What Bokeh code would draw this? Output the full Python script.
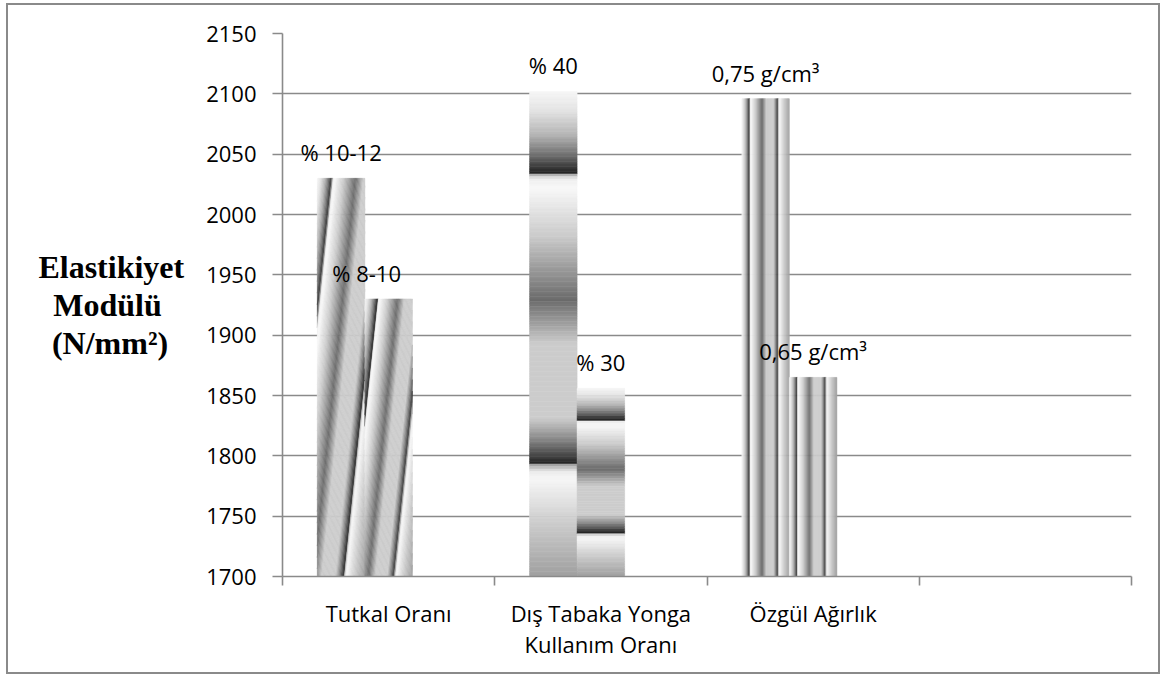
import math
import numpy as np
from bokeh.plotting import figure
from bokeh.layouts import column
from bokeh.core.properties import value
from bokeh.models import Range1d, FixedTicker, ColumnDataSource, LabelSet
from bokeh.embed import file_html
from bokeh.resources import INLINE

# ---- data -------------------------------------------------------------
categories = ["Tutkal Oranı", "Dış Tabaka Yonga\nKullanım Oranı", "Özgül Ağırlık", ""]
first_values = [2030, 2102, 2096]
second_values = [1930, 1856, 1865]
first_labels = ["% 10-12", "% 40", "0,75 g/cm³"]
second_labels = ["% 8-10", "% 30", "0,65 g/cm³"]
y_ticks = [1700, 1750, 1800, 1850, 1900, 1950, 2000, 2050, 2100, 2150]
# title lines; the no-break spaces keep the shorter lines centred under the longest
y_title = "Elastikiyet\nModülü\u00a0\u00a0\u2009\n(N/mm²)\u00a0\u00a0"

# ---- styling ----------------------------------------------------------
# direction of the metallic gradient used for each category's bars
fill_direction = ["slant", "down", "across"]
second_label_shift = [-22, 0, 0]

W, H = 1150, 667
B_LEFT, B_RIGHT, B_TOP, B_BOTTOM = 274, 27, 28, 96
Y_MIN, Y_MAX = y_ticks[0], y_ticks[-1]
N_CAT = len(categories)
px_x = (W - B_LEFT - B_RIGHT) / N_CAT
px_y = (H - B_TOP - B_BOTTOM) / (Y_MAX - Y_MIN)

BAR_W = 0.224                     # bar width as a fraction of a category slot
SERIES_OFFSET = [-BAR_W, 0.0]     # first / second series (third series is empty)
GRID = "#8a8a8a"
FONT = "Open Sans"

# chrome-like gradient: (position along gradient, gray level)
STOPS = [(0.000, 246), (0.040, 228), (0.090, 180), (0.130, 115), (0.158, 55), (0.168, 36),
         (0.169, 150), (0.180, 238), (0.200, 248), (0.300, 202), (0.380, 145), (0.430, 108),
         (0.470, 150), (0.520, 204), (0.675, 204), (0.720, 132), (0.755, 62), (0.767, 36),
         (0.768, 150), (0.784, 236), (0.800, 246), (0.900, 200), (1.000, 160)]
ST_T = np.array([s[0] for s in STOPS])
ST_G = np.array([s[1] for s in STOPS])


def gray(t):
    g = int(round(float(np.interp(t, ST_T, ST_G))))
    return "#%02x%02x%02x" % (g, g, g)


def clip(poly, a, b, c):
    """Keep the part of poly where a*u + b*v >= c."""
    out = []
    n = len(poly)
    for i in range(n):
        p, q = poly[i], poly[(i + 1) % n]
        fp = a * p[0] + b * p[1] - c
        fq = a * q[0] + b * q[1] - c
        if fp >= 0:
            out.append(p)
        if (fp >= 0) != (fq >= 0):
            r = fp / (fp - fq)
            out.append((p[0] + r * (q[0] - p[0]), p[1] + r * (q[1] - p[1])))
    return out


xs, ys, colors = [], [], []


def add_bar(center, val, mode):
    left = center - BAR_W / 2
    w_px = BAR_W * px_x
    h_px = (val - Y_MIN) * px_y
    if mode == "slant":
        th = math.radians(6.0)
        ca, sa = math.cos(th), math.sin(th)
        L = w_px * ca + h_px * sa
        n = max(int(L / 1.2), 40)
        rect = [(0, 0), (w_px, 0), (w_px, h_px), (0, h_px)]
        for k in range(n):
            t0, t1 = k / n, (k + 1) / n
            poly = clip(rect, ca, sa, t0 * L)
            poly = clip(poly, -ca, -sa, -t1 * L)
            if len(poly) < 3:
                continue
            xs.append([left + u / px_x for u, v in poly])
            ys.append([val - v / px_y for u, v in poly])
            colors.append(gray((t0 + t1) / 2))
    elif mode == "down":
        n = max(int(h_px / 2.5), 40)
        for k in range(n):
            t0, t1 = k / n, (k + 1) / n
            y0 = val - t0 * (val - Y_MIN)
            y1 = val - t1 * (val - Y_MIN)
            xs.append([left, left + BAR_W, left + BAR_W, left])
            ys.append([y0, y0, y1, y1])
            colors.append(gray((t0 + t1) / 2))
    else:
        n = max(int(w_px / 1.0), 30)
        for k in range(n):
            t0, t1 = k / n, (k + 1) / n
            x0 = left + t0 * BAR_W
            x1 = left + t1 * BAR_W
            xs.append([x0, x1, x1, x0])
            ys.append([val, val, Y_MIN, Y_MIN])
            colors.append(gray((t0 + t1) / 2))


lab_x, lab_y, lab_t, lab_dx = [], [], [], []
for i, (v1, v2) in enumerate(zip(first_values, second_values)):
    c = i + 0.5
    for s, (v, txt, dx) in enumerate([(v1, first_labels[i], 0),
                                      (v2, second_labels[i], second_label_shift[i])]):
        add_bar(c + SERIES_OFFSET[s], v, fill_direction[i])
        lab_x.append(c + SERIES_OFFSET[s])
        lab_y.append(v)
        lab_t.append(txt)
        lab_dx.append(dx)

# ---- figure -----------------------------------------------------------
p = figure(width=W, height=H, output_backend="svg", toolbar_location=None,
           x_range=Range1d(0, N_CAT), y_range=Range1d(Y_MIN, Y_MAX),
           min_border_left=B_LEFT, min_border_right=B_RIGHT,
           min_border_top=B_TOP, min_border_bottom=B_BOTTOM)
p.outline_line_color = None
p.background_fill_color = "white"
p.border_fill_color = "white"
p.xgrid.grid_line_color = None
p.ygrid.grid_line_color = GRID
p.ygrid.grid_line_width = 1.6
p.ygrid.ticker = FixedTicker(ticks=y_ticks)

p.patches(xs, ys, fill_color=colors, line_color=colors, line_width=0.5)

src = ColumnDataSource(dict(x=lab_x, y=lab_y, text=lab_t, dx=lab_dx))
p.add_layout(LabelSet(x="x", y="y", text="text", source=src, x_offset="dx", y_offset=26,
                      text_align="center", text_baseline="middle",
                      text_font=value(FONT), text_font_size="22px", text_color="black"))

# y axis with a horizontal, three-line title
p.yaxis.ticker = FixedTicker(ticks=y_ticks)
p.yaxis.axis_line_color = GRID
p.yaxis.axis_line_width = 1.6
p.yaxis.major_tick_line_color = GRID
p.yaxis.major_tick_line_width = 1.6
p.yaxis.major_tick_in = 0
p.yaxis.major_tick_out = 10
p.yaxis.minor_tick_line_color = None
p.yaxis.major_label_standoff = 16
p.yaxis.major_label_text_font = FONT
p.yaxis.major_label_text_font_size = "22px"
p.yaxis.major_label_text_color = "black"
p.yaxis.axis_label = y_title
p.yaxis.axis_label_orientation = "horizontal"
p.yaxis.axis_label_text_font = "Liberation Serif"
p.yaxis.axis_label_text_font_style = "bold"
p.yaxis.axis_label_text_font_size = "32px"
p.yaxis.axis_label_text_color = "black"
p.yaxis.axis_label_text_line_height = 1.06
p.yaxis.axis_label_standoff = 19

# x axis: labels at slot centres, tick marks at slot boundaries
centres = [i + 0.5 for i in range(N_CAT)]
p.xaxis.ticker = FixedTicker(ticks=centres, minor_ticks=list(range(N_CAT + 1)))
p.xaxis.major_label_overrides = {c: name for c, name in zip(centres, categories)}
p.xaxis.axis_line_color = GRID
p.xaxis.axis_line_width = 1.6
p.xaxis.major_tick_line_color = None
p.xaxis.minor_tick_line_color = GRID
p.xaxis.minor_tick_line_width = 1.6
p.xaxis.minor_tick_in = 0
p.xaxis.minor_tick_out = 9
p.xaxis.major_label_standoff = 12
p.xaxis.major_label_text_font = FONT
p.xaxis.major_label_text_font_size = "22px"
p.xaxis.major_label_text_color = "black"
p.xaxis.major_label_text_line_height = 1.05

# thin grey frame around the whole chart
page = column(p, styles={"border": "2px solid " + GRID, "margin-left": "6px",
                         "margin-top": "3px"})

open("out.html", "w").write(file_html(page, INLINE))
